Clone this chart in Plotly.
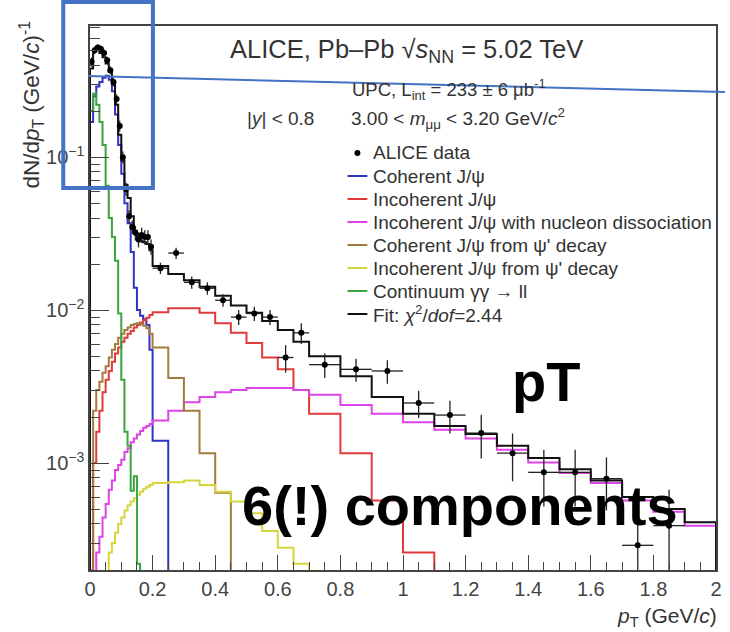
import plotly.graph_objects as go

# ---------------------------------------------------------------------------
# Binning of the pT templates / data (GeV/c)
# ---------------------------------------------------------------------------
bin_edges = [0.00, 0.01, 0.02, 0.03, 0.04, 0.05, 0.06, 0.07, 0.08, 0.09, 0.10,
             0.11, 0.12, 0.13, 0.14, 0.15, 0.16, 0.17, 0.18, 0.19, 0.20,
             0.25, 0.30, 0.35, 0.40, 0.45, 0.50, 0.55, 0.60, 0.65, 0.70,
             0.80, 0.90, 1.00, 1.10, 1.20, 1.30, 1.40, 1.50, 1.60, 1.70,
             1.80, 1.90, 2.00]

# Template contents, dN/dpT per bin (GeV/c)^-1
coherent_jpsi = [0.17, 0.25, 0.29, 0.31, 0.33, 0.34, 0.32, 0.27, 0.19, 0.12,
                 0.078, 0.050, 0.037, 0.024, 0.014, 0.0100, 0.0092, 0.0087, 0.0080, 0.0055,
                 0.0014, 0, 0, 0, 0, 0, 0, 0, 0, 0,
                 0, 0, 0, 0, 0, 0, 0, 0, 0, 0, 0, 0, 0]

incoherent_jpsi = [0.00015, 0.0010, 0.0016, 0.0022, 0.0029, 0.0035, 0.0040, 0.0046, 0.0052, 0.0057,
                   0.0062, 0.0066, 0.0070, 0.0073, 0.0077, 0.0080, 0.0083, 0.0086, 0.0089, 0.0093,
                   0.0097, 0.0103, 0.0103, 0.0096, 0.0082, 0.0071, 0.0061, 0.0049, 0.0041, 0.0030,
                   0.0021, 0.00116, 0.00057, 0.00026, 0, 0, 0, 0, 0, 0, 0, 0, 0]

incoherent_dissoc = [0, 0.00015, 0.00026, 0.00033, 0.00044, 0.00054, 0.00067, 0.00077, 0.00090, 0.00097,
                     0.00105, 0.00118, 0.00125, 0.00137, 0.00145, 0.00154, 0.00162, 0.00170, 0.00175, 0.00180,
                     0.0019, 0.0022, 0.0025, 0.0027, 0.0029, 0.0030, 0.0031, 0.0031, 0.0031, 0.0030,
                     0.0028, 0.0024, 0.0021, 0.00185, 0.00165, 0.00145, 0.00122, 0.00101, 0.00086, 0.00074,
                     0.00057, 0.00048, 0.00039]

coherent_psi2s = [0.0002, 0.0022, 0.0030, 0.0034, 0.0039, 0.0043, 0.0049, 0.0055, 0.0060, 0.0066,
                  0.0070, 0.0074, 0.0077, 0.0080, 0.0081, 0.0082, 0.0081, 0.0079, 0.0076, 0.0070,
                  0.0057, 0.0036, 0.0022, 0.00116, 0.00064, 0, 0, 0, 0, 0,
                  0, 0, 0, 0, 0, 0, 0, 0, 0, 0, 0, 0, 0]

incoherent_psi2s = [0, 0, 0, 0, 0, 0.00018, 0.00026, 0.00030, 0.00035, 0.00040,
                    0.00044, 0.00049, 0.00053, 0.00056, 0.00059, 0.00062, 0.00065, 0.00068, 0.00070, 0.00072,
                    0.00074, 0.00075, 0.00077, 0.00072, 0.00065, 0.00056, 0.00047, 0.00036, 0.00028, 0.00022,
                    0, 0, 0, 0, 0, 0, 0, 0, 0, 0, 0, 0, 0]

continuum_gg = [0.20, 0.26, 0.22, 0.17, 0.12, 0.065, 0.040, 0.030, 0.021, 0.0095,
                0.0035, 0.0016, 0.0013, 0.00066, 0.00082, 0.00022, 0, 0, 0, 0,
                0, 0, 0, 0, 0, 0, 0, 0, 0, 0,
                0, 0, 0, 0, 0, 0, 0, 0, 0, 0, 0, 0, 0]

fit_total = [0.38, 0.50, 0.51, 0.48, 0.45, 0.41, 0.36, 0.30, 0.22, 0.14,
             0.095, 0.066, 0.054, 0.041, 0.033, 0.0290, 0.0282, 0.0278, 0.0270, 0.0246,
             0.0194, 0.0172, 0.0157, 0.0142, 0.0124, 0.0107, 0.0096, 0.0085, 0.0074, 0.0062,
             0.0050, 0.0037, 0.0027, 0.0021, 0.00175, 0.00155, 0.0013, 0.00108, 0.00091, 0.00077,
             0.0006, 0.0005, 0.00041]

# Measured points
data_pt = [0.005, 0.015, 0.025, 0.035, 0.045, 0.055, 0.065, 0.075, 0.085, 0.095,
           0.105, 0.115, 0.125, 0.135, 0.145, 0.155, 0.165, 0.175, 0.185, 0.195,
           0.225, 0.275, 0.325, 0.375, 0.425, 0.475, 0.525, 0.575, 0.625, 0.675,
           0.75, 0.85, 0.95, 1.05, 1.15, 1.25, 1.35, 1.45, 1.55, 1.65, 1.75, 1.85]
data_pt_halfwidth = [0.005] * 20 + [0.025] * 10 + [0.05] * 12
data_y = [0.42, 0.50, 0.52, 0.51, 0.48, 0.43, 0.37, 0.31, 0.24, 0.16,
          0.10, 0.062, 0.041, 0.035, 0.032, 0.029, 0.031, 0.030, 0.030, 0.026,
          0.0188, 0.0236, 0.0152, 0.0139, 0.0116, 0.0090, 0.0095, 0.0090, 0.0049, 0.0071,
          0.0044, 0.0041, 0.0040, 0.00247, 0.00206, 0.00157, 0.00116, 0.00087, 0.00087, 0.00079,
          0.00029, 0.00039]
data_err = [0.030, 0.028, 0.028, 0.027, 0.026, 0.024, 0.022, 0.020, 0.017, 0.013,
            0.009, 0.006, 0.004, 0.0035, 0.0035, 0.0033, 0.0035, 0.0033, 0.0033, 0.0030,
            0.0016, 0.0020, 0.0014, 0.0013, 0.0011, 0.0010, 0.0010, 0.0010, 0.0010, 0.0011,
            0.0008, 0.0007, 0.0007, 0.0005, 0.0005, 0.0005, 0.0004, 0.00035, 0.00035, 0.0003,
            0.00018, 0.00028]

x_ticks = [0, 0.2, 0.4, 0.6, 0.8, 1.0, 1.2, 1.4, 1.6, 1.8, 2.0]
y_ticks = [1e-3, 1e-2, 1e-1]
y_tick_text = ["10<sup>\u22123</sup>", "10<sup>\u22122</sup>", "10<sup>\u22121</sup>"]

FONT = "Liberation Sans, Arial, Helvetica, sans-serif"
TEXT_COL = "#333333"
FLOOR = 1e-5  # empty bins are drawn down past the bottom of the log axis

# Plot-area geometry in pixels (used for overlay text / shapes)
W, H = 730, 632
ML, MR, MT, MB = 90, 8, 26, 62
PW, PH = W - ML - MR, H - MT - MB


def px(xp):
    return (xp - ML) / PW


def py(yp):
    return (H - MB - yp) / PH


# name, colour, template
components = [
    ("Coherent J/\u03c8", "#3232c4", coherent_jpsi),
    ("Incoherent J/\u03c8", "#e03a3a", incoherent_jpsi),
    ("Incoherent J/\u03c8 with nucleon dissociation", "#dd44e6", incoherent_dissoc),
    ("Coherent J/\u03c8 from \u03c8' decay", "#a37b3c", coherent_psi2s),
    ("Incoherent J/\u03c8 from \u03c8' decay", "#d6d63a", incoherent_psi2s),
    ("Continuum \u03b3\u03b3 \u2192 ll", "#3aa53a", continuum_gg),
    ("Fit: <i>\u03c7</i><sup>2</sup>/<i>dof</i>=2.44", "#111111", fit_total),
]


def step_hist(values, name, color, width=2.0):
    xs = [bin_edges[0]] + bin_edges[:-1] + [bin_edges[-1]]
    ys = [FLOOR] + [v if v > 0 else FLOOR for v in values] + [FLOOR]
    return go.Scatter(x=xs, y=ys, mode="lines", name=name, showlegend=False,
                      line=dict(shape="hv", color=color, width=width))


fig = go.Figure()
for name, color, vals in components:
    fig.add_trace(step_hist(vals, name, color))
fig.add_trace(go.Scatter(
    x=data_pt, y=data_y, mode="markers", name="ALICE data", showlegend=False,
    marker=dict(color="black", size=6),
    error_y=dict(type="data", array=data_err, color="#222222", thickness=1.3, width=0),
    error_x=dict(type="data", array=data_pt_halfwidth, color="#222222", thickness=1.3, width=0),
))

axis_common = dict(
    showgrid=False, zeroline=False, showline=True, linecolor="#444444", linewidth=1.5,
    mirror=True, ticks="inside", tickcolor="#444444", tickwidth=1.3,
    tickfont=dict(family=FONT, size=20, color="#444444"),
)

fig.update_xaxes(range=[0, 2], tickvals=x_ticks, ticklen=15,
                 minor=dict(ticks="inside", ticklen=8, dtick=0.05, tickcolor="#444444", tickwidth=1.2),
                 **axis_common)
fig.update_yaxes(type="log", range=[-3.699, -0.1427], tickvals=y_ticks, ticktext=y_tick_text,
                 ticklen=19,
                 minor=dict(ticks="inside", ticklen=10, dtick="D1", tickcolor="#444444", tickwidth=1.2),
                 **axis_common)

annotations = [
    dict(x=px(229), y=py(51), xanchor="left", yanchor="middle",
         text="ALICE, Pb\u2013Pb \u221a<i>s</i><sub>NN</sub> = 5.02 TeV",
         font=dict(family=FONT, size=25.5, color=TEXT_COL)),
    dict(x=px(352), y=py(89), xanchor="left", yanchor="middle",
         text="UPC, L<sub>int</sub> = 233 \u00b1 6 \u03bcb<sup>-1</sup>",
         font=dict(family=FONT, size=18.5, color=TEXT_COL)),
    dict(x=px(246), y=py(119), xanchor="left", yanchor="middle",
         text="|<i>y</i>| &lt; 0.8",
         font=dict(family=FONT, size=19, color=TEXT_COL)),
    dict(x=px(351), y=py(119), xanchor="left", yanchor="middle",
         text="3.00 &lt; <i>m</i><sub>\u03bc\u03bc</sub> &lt; 3.20 GeV/<i>c</i><sup>2</sup>",
         font=dict(family=FONT, size=19, color=TEXT_COL)),
    dict(x=px(30), y=py(105), xanchor="center", yanchor="middle", textangle=-90,
         text="dN/d<i>p</i><sub>T</sub> (GeV/<i>c</i>)<sup>-1</sup>",
         font=dict(family=FONT, size=22.5, color=TEXT_COL)),
    dict(x=px(725), y=py(617), xanchor="right", yanchor="middle",
         text="<i>p</i><sub>T</sub> (GeV/<i>c</i>)",
         font=dict(family=FONT, size=21, color=TEXT_COL)),
    dict(x=px(550), y=py(381), xanchor="center", yanchor="middle", text="pT",
         font=dict(family=FONT, size=56, color="black", weight="bold")),
    dict(x=px(464), y=py(505), xanchor="center", yanchor="middle", text="6(!) components",
         font=dict(family=FONT, size=56, color="black", weight="bold")),
]

HILITE = "#4472c4"
shapes = [
    dict(type="rect", xref="paper", yref="paper", x0=px(63), x1=px(153.5), y0=py(188), y1=py(2),
         line=dict(color=HILITE, width=4), layer="above"),
    dict(type="line", xref="paper", yref="paper", x0=px(88), y0=py(76), x1=px(731), y1=py(92),
         line=dict(color=HILITE, width=2), layer="above"),
]

# Legend block: marker/line sample + label, one row every 23 px
LEG_TOP, LEG_STEP = 153, 23
LEG_X0, LEG_X1, LEG_TXT = 350, 370, 374
legend_rows = [("ALICE data", None)] + [(n, c) for n, c, _ in components]
for i, (label, color) in enumerate(legend_rows):
    yc = LEG_TOP + i * LEG_STEP
    if color is None:
        shapes.append(dict(type="circle", xref="paper", yref="paper",
                           x0=px(357), x1=px(363), y0=py(yc + 3), y1=py(yc - 3),
                           fillcolor="black", line=dict(color="black", width=0)))
    else:
        shapes.append(dict(type="line", xref="paper", yref="paper",
                           x0=px(LEG_X0), x1=px(LEG_X1), y0=py(yc), y1=py(yc),
                           line=dict(color=color, width=2)))
    annotations.append(dict(x=px(LEG_TXT), y=py(yc), xanchor="left", yanchor="middle",
                            text=label, font=dict(family=FONT, size=19, color=TEXT_COL)))

for a in annotations:
    a.update(xref="paper", yref="paper", showarrow=False)

fig.update_layout(
    width=W, height=H, margin=dict(l=ML, r=MR, t=MT, b=MB),
    paper_bgcolor="white", plot_bgcolor="white",
    font=dict(family=FONT, color=TEXT_COL),
    showlegend=False,
    annotations=annotations, shapes=shapes,
)

fig.write_html("out.html")
